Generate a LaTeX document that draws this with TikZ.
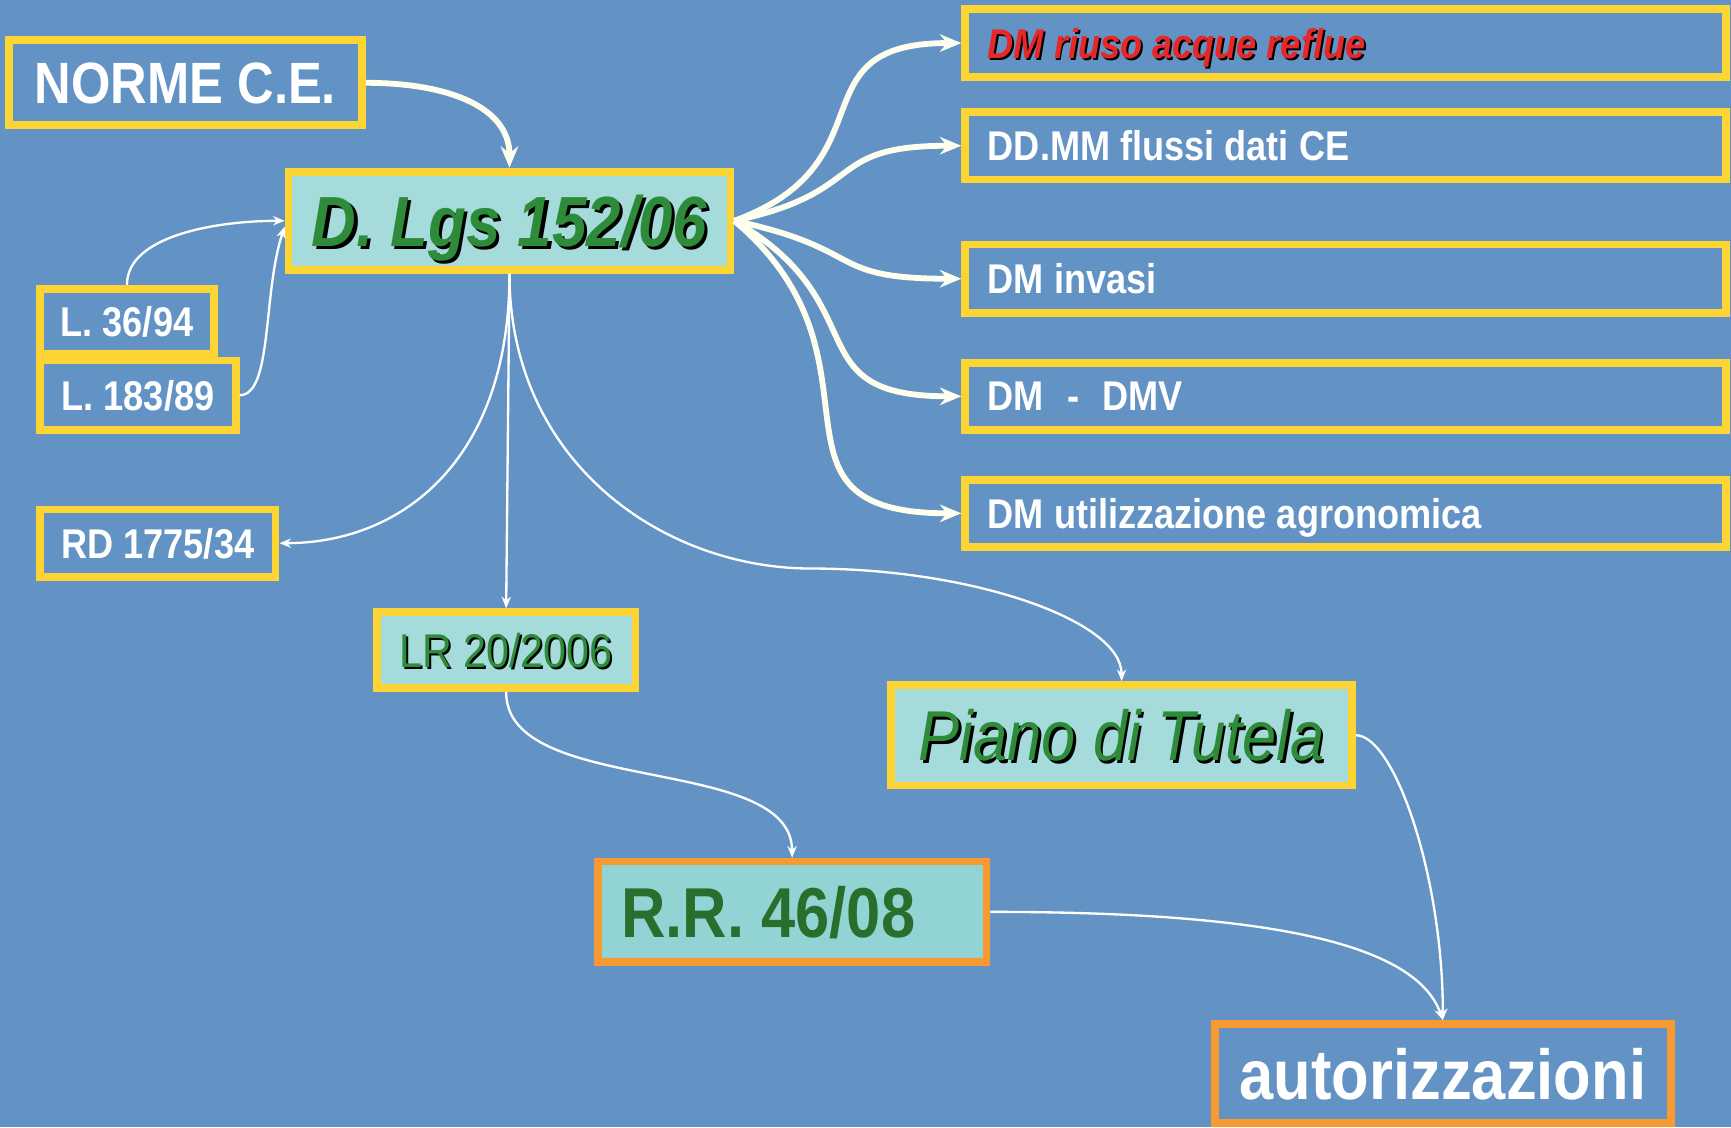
\documentclass[tikz,border=0pt]{standalone}
\usepackage{fontspec}
\setmainfont{Liberation Sans}[FakeStretch=0.87]
\usepackage{tikz}
\usetikzlibrary{arrows,arrows.meta,positioning,calc}
\definecolor{bgblue}{RGB}{99,147,196}
\definecolor{boxyellow}{RGB}{252,212,52}
\definecolor{boxorange}{RGB}{247,154,50}
\definecolor{lawcyan}{RGB}{166,219,219}
\definecolor{rrcyan}{RGB}{146,211,211}
\definecolor{lawgreen}{RGB}{46,139,58}
\definecolor{rrgreen}{RGB}{42,110,46}
\definecolor{reusered}{RGB}{232,40,40}
\definecolor{arrowwhite}{RGB}{255,255,240}
\tikzstyle{law}=[draw=boxyellow,line width=2pt,fill=bgblue,inner sep=0pt,text=white,text depth=0pt]
\tikzstyle{keylaw}=[law,fill=lawcyan,text=lawgreen]
\tikzstyle{smalllaw}=[law,font=\bfseries\fontsize{10.7}{12}\selectfont]
\tikzstyle{dmbox}=[smalllaw,minimum width=6.89cm]
\tikzstyle{thinlink}=[white,line width=0.6pt,-{Stealth[length=3pt,width=2.4pt]}]
\tikzstyle{thicklink}=[arrowwhite,line width=1.5pt,-{Stealth[length=5.5pt,width=4.5pt]}]
\newcommand{\shadowed}[2][0.8pt]{\makebox[0pt][l]{\hspace{#1}\raisebox{-#1}{\color{black}#2}}#2}
\newcommand{\dmtext}[1]{\makebox[6.48cm][l]{#1}}

\begin{document}
\begin{tikzpicture}[x=0.01cm,y=-0.01cm]
\fill[bgblue] (0,0) rectangle (1568,1021);
\useasboundingbox (0,0) rectangle (1568,1021);

% laws on the left
\node[law,minimum width=3.19cm,minimum height=0.77cm,font=\bfseries\fontsize{15}{18}\selectfont] (norme) at (168,75) {NORME C.E.};
\node[keylaw,minimum width=4cm,minimum height=0.89cm,font=\bfseries\itshape\fontsize{18.3}{22}\selectfont] (dlgs) at (461.5,200) {\shadowed{D. Lgs 152/06}};
\node[smalllaw,minimum width=1.57cm,minimum height=0.59cm] (l36) at (115,291) {L. 36/94};
\node[smalllaw,minimum width=1.77cm,minimum height=0.63cm] (l183) at (125,358) {L. 183/89};
\node[smalllaw,minimum width=2.13cm,minimum height=0.61cm] (rd) at (143,492) {RD 1775/34};
\node[keylaw,minimum width=2.34cm,minimum height=0.69cm,font=\fontsize{12.2}{14}\selectfont] (lr) at (458.5,589) {\shadowed[0.5pt]{LR 20/2006}};
\node[keylaw,minimum width=4.17cm,minimum height=0.91cm,font=\itshape\fontsize{18.2}{22}\selectfont] (tutela) at (1016,666) {\shadowed[0.7pt]{Piano di Tutela}};
\node[law,draw=boxorange,fill=rrcyan,text=rrgreen,minimum width=3.52cm,minimum height=0.91cm,font=\bfseries\fontsize{18.2}{22}\selectfont] (rr) at (717.5,826) {\makebox[3.09cm][l]{R.R. 46/08}};
\node[law,draw=boxorange,minimum width=4.13cm,minimum height=0.90cm,font=\bfseries\fontsize{18.2}{22}\selectfont] (autoriz) at (1307,972.5) {autorizzazioni};

% decrees on the right
\node[dmbox,minimum height=0.61cm,text=reusered,font=\bfseries\itshape\fontsize{10.7}{12}\selectfont] (dm1) at (1219,39) {\dmtext{\shadowed[0.5pt]{DM riuso acque reflue}}};
\node[dmbox,minimum height=0.61cm] (dm2) at (1219,132) {\dmtext{DD.MM flussi dati CE}};
\node[dmbox,minimum height=0.62cm] (dm3) at (1219,252.5) {\dmtext{DM invasi}};
\node[dmbox,minimum height=0.61cm] (dm4) at (1219,359) {\dmtext{DM\hspace{6pt}-\hspace{6pt}DMV}};
\node[dmbox,minimum height=0.61cm] (dm5) at (1219,465) {\dmtext{DM utilizzazione agronomica}};

\coordinate (tutelabend) at (735,515);

% links
\draw[thicklink] (norme.east) .. controls +(75,0) and +(0,-55) .. (dlgs.north);
\foreach \dm/\ang in {dm1/20,dm2/12,dm3/-12,dm4/-30,dm5/-40}
  \draw[thicklink] (dlgs.east) to[out=\ang,in=180,looseness=1.5] (\dm.west);
\draw[thinlink] (l36.north) .. controls +(0,-45) and +(-60,0) .. (dlgs.west);
\draw[thinlink] (l183.east) .. controls +(30,0) and +(-20,60) .. ([yshift=-1.5pt]dlgs.west);
\draw[thinlink] (dlgs.south) .. controls +(0,170) and +(110,0) .. (rd.east);
\draw[thinlink] (dlgs.south) -- (lr.north);
\draw[thinlink] (dlgs.south) .. controls +(0,170) and +(-135,0) .. (tutelabend)
  .. controls +(145,0) and +(0,-55) .. (tutela.north);
\draw[thinlink] (lr.south) .. controls +(0,95) and +(0,-95) .. (rr.north);
\draw[thinlink] (tutela.east) .. controls +(35,0) and +(0,-130) .. (autoriz.north);
\draw[thinlink] (rr.east) .. controls +(250,0) and +(-25,-70) .. (autoriz.north);
\end{tikzpicture}
\end{document}
